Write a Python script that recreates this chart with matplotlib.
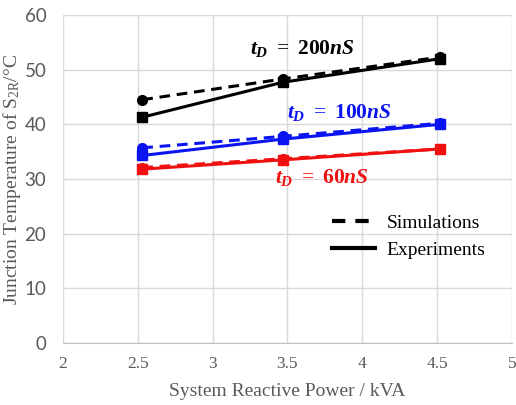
import matplotlib
matplotlib.use("Agg")
import matplotlib.pyplot as plt
from matplotlib.lines import Line2D

plt.rcParams['mathtext.fontset'] = 'custom'
plt.rcParams['mathtext.rm'] = 'Liberation Serif'
plt.rcParams['mathtext.it'] = 'Liberation Serif:italic:bold'
plt.rcParams['mathtext.bf'] = 'Liberation Serif:bold'

power = [2.53, 3.47, 4.52]
sim_200 = [44.5, 48.3, 52.3]
exp_200 = [41.3, 47.7, 52.0]
sim_100 = [35.7, 37.8, 40.2]
exp_100 = [34.3, 37.3, 40.0]
sim_60 = [32.1, 33.7, 35.5]
exp_60 = [31.8, 33.5, 35.5]

x_ticks = [2, 2.5, 3, 3.5, 4, 4.5, 5]
x_tick_labels = ['2', '2.5', '3', '3.5', '4', '4.5', '5']
y_ticks = [0, 10, 20, 30, 40, 50, 60]

fig = plt.figure(figsize=(5.16, 4.05), dpi=100)
ax = fig.add_axes([0.122, 0.153, 0.870, 0.810])

series = [
    (sim_200, exp_200, 'black'),
    (sim_100, exp_100, '#0a14f0'),
    (sim_60, exp_60, '#f01010'),
]
for sim, exp, c in series:
    ax.plot(power, sim, color=c, lw=2.2, ls=(0, (3.5, 2.2)), marker='o', ms=7, zorder=3)
    ax.plot(power, exp, color=c, lw=2.2, ls='-', marker='s', ms=7, zorder=3)

ax.set_xlim(2, 5)
ax.set_ylim(0, 60)
ax.set_xticks(x_ticks)
ax.set_xticklabels(x_tick_labels, fontfamily='Liberation Serif', fontsize=12.5, color='#595959')
ax.set_yticks(y_ticks)
ax.set_yticklabels([str(v) for v in y_ticks], fontfamily='Lato', fontsize=13.5, color='#595959')
ax.tick_params(axis='x', length=0, pad=9)
ax.tick_params(axis='y', length=0, pad=12)
ax.grid(True, color='#d9d9d9', lw=1)
ax.set_axisbelow(True)
for s in ['top', 'right', 'left']:
    ax.spines[s].set_visible(False)
ax.spines['bottom'].set_color('#bfbfbf')

ax.set_xlabel('System Reactive Power / kVA', fontfamily='Liberation Serif', fontsize=14,
              color='#595959', labelpad=8)
ax.set_ylabel(r'Junction Temperature of S$_{\mathrm{2R}}$/°C', fontfamily='Liberation Serif',
              fontsize=14, color='#595959', labelpad=1)

ax.text(3.25, 53.8, r'$t_D\ =\ \mathbf{200}nS$', fontsize=15.5, color='black', va='center')
ax.text(3.5, 42.2, r'$t_D\ =\ \mathbf{100}nS$', fontsize=15.5, color='#0a14f0', va='center')
ax.text(3.42, 30.3, r'$t_D\ =\ \mathbf{60}nS$', fontsize=15.5, color='#f01010', va='center')

handles = [Line2D([], [], color='black', lw=3, ls=(0, (3.2, 2.4))),
           Line2D([], [], color='black', lw=3, ls='-')]
ax.legend(handles, ['Simulations', 'Experiments'], loc='upper left',
          bbox_to_anchor=(0.56, 0.445), frameon=False,
          prop={'family': 'Liberation Serif', 'size': 14}, handlelength=2.2,
          labelspacing=0.45, handletextpad=0.6)

fig.savefig('out.png', dpi=100)
